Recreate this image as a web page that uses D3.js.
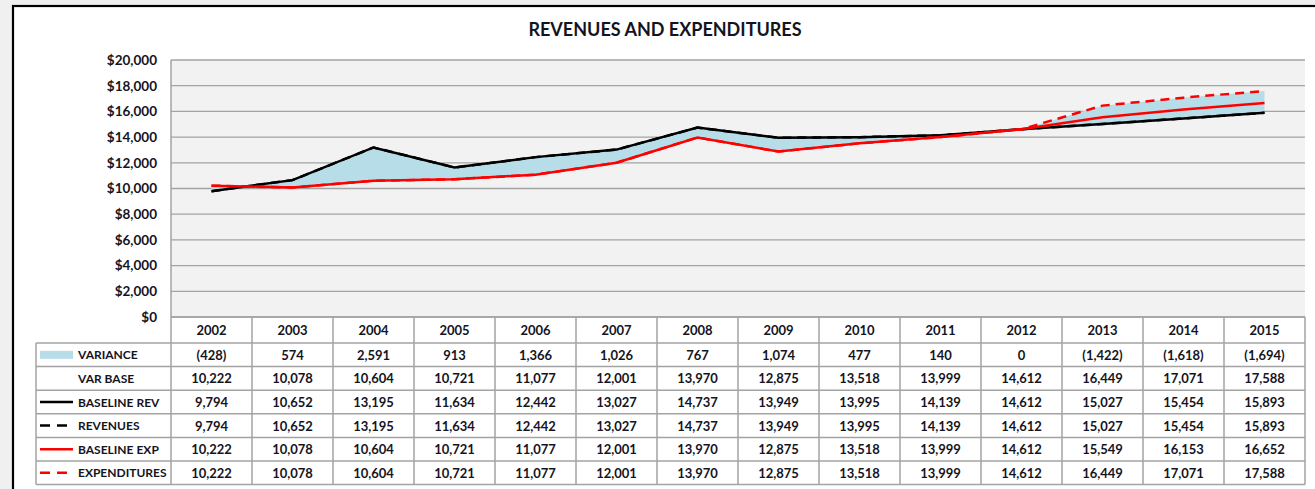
<!DOCTYPE html>
<head>
    <meta charset="utf-8">
    <script src="https://d3js.org/d3.v7.min.js"></script>
    <style>
        body { margin: 0; background: #f0f0f0; }
        svg { display: block; font-family: Lato, "Open Sans", sans-serif; font-weight: bold; }
        .axis text { font-family: Lato, "Open Sans", sans-serif; font-size: 13.5px; fill: #14141e; }
        .axis path, .axis line { display: none; }
        .grid line { stroke: #a3a3a3; stroke-width: 1.3; }
        .tbl line { stroke: #a3a3a3; stroke-width: 1.5; }
        .tbl text { font-size: 13px; fill: #14141e; }
    </style>
</head>
<body>
<div id="chart"></div>
<script>
    // dados ------------------------------------------------------------
    var years = [2002, 2003, 2004, 2005, 2006, 2007, 2008, 2009, 2010, 2011, 2012, 2013, 2014, 2015];
    var variance     = [-428, 574, 2591, 913, 1366, 1026, 767, 1074, 477, 140, 0, -1422, -1618, -1694];
    var varBase      = [10222, 10078, 10604, 10721, 11077, 12001, 13970, 12875, 13518, 13999, 14612, 16449, 17071, 17588];
    var baselineRev  = [9794, 10652, 13195, 11634, 12442, 13027, 14737, 13949, 13995, 14139, 14612, 15027, 15454, 15893];
    var revenues     = [9794, 10652, 13195, 11634, 12442, 13027, 14737, 13949, 13995, 14139, 14612, 15027, 15454, 15893];
    var baselineExp  = [10222, 10078, 10604, 10721, 11077, 12001, 13970, 12875, 13518, 13999, 14612, 15549, 16153, 16652];
    var expenditures = [10222, 10078, 10604, 10721, 11077, 12001, 13970, 12875, 13518, 13999, 14612, 16449, 17071, 17588];
    var yTicks = [0, 2000, 4000, 6000, 8000, 10000, 12000, 14000, 16000, 18000, 20000];

    var rows = [
        {name: "VARIANCE",      values: variance,     key: "area"},
        {name: "VAR BASE",      values: varBase,      key: "none"},
        {name: "BASELINE REV",  values: baselineRev,  key: "line", color: "#000", dash: null},
        {name: "REVENUES",      values: revenues,     key: "line", color: "#000", dash: "9,6"},
        {name: "BASELINE EXP",  values: baselineExp,  key: "line", color: "#ff0000", dash: null},
        {name: "EXPENDITURES",  values: expenditures, key: "line", color: "#ff0000", dash: "9,6"}
    ];

    var width = 1315, height = 489;
    var plot = {left: 171, right: 1305, top: 60, bottom: 317};
    var tableLeft = 36, headerH = 26, rowH = 23.6;
    var areaColor = "#b7dde8";

    var svg = d3.select("#chart").append("svg")
        .attr("width", width)
        .attr("height", height);

    // moldura externa
    svg.append("rect")
        .attr("x", 13).attr("y", 6)
        .attr("width", width).attr("height", height)
        .attr("fill", "#fff")
        .attr("stroke", "#000")
        .attr("stroke-width", 2.2);

    svg.append("text")
        .attr("x", 665).attr("y", 36)
        .attr("text-anchor", "middle")
        .attr("font-size", "18px")
        .attr("fill", "#14141e")
        .text("REVENUES AND EXPENDITURES");

    // escalas ----------------------------------------------------------
    var x = d3.scaleBand()
        .domain(years)
        .range([plot.left, plot.right]);

    var y = d3.scaleLinear()
        .domain([0, 20000])
        .range([plot.bottom, plot.top]);

    function cx(d) { return x(d) + x.bandwidth() / 2; }

    // area do grafico
    svg.append("rect")
        .attr("x", plot.left).attr("y", plot.top)
        .attr("width", plot.right - plot.left)
        .attr("height", plot.bottom - plot.top)
        .attr("fill", "#f2f2f2");

    svg.append("g")
        .attr("class", "grid")
        .selectAll("line")
        .data(yTicks)
        .enter()
        .append("line")
        .attr("x1", plot.left).attr("x2", plot.right)
        .attr("y1", function(d) { return y(d); })
        .attr("y2", function(d) { return y(d); });

    svg.append("line")
        .attr("x1", plot.left).attr("x2", plot.left)
        .attr("y1", plot.top).attr("y2", plot.bottom)
        .attr("stroke", "#a3a3a3").attr("stroke-width", 1.5);

    svg.append("g")
        .attr("class", "axis")
        .attr("transform", "translate(" + (plot.left - 8) + ",0)")
        .call(d3.axisLeft(y).tickValues(yTicks).tickSize(0).tickPadding(6)
            .tickFormat(function(d) { return "$" + d3.format(",")(d); }));

    // variancia (area empilhada sobre VAR BASE) -------------------------
    var area = d3.area()
        .x(function(d, i) { return cx(years[i]); })
        .y0(function(d, i) { return y(varBase[i]); })
        .y1(function(d, i) { return y(varBase[i] + variance[i]); });

    svg.append("path")
        .datum(variance)
        .attr("fill", areaColor)
        .attr("d", area);

    // linhas
    var line = d3.line()
        .x(function(d, i) { return cx(years[i]); })
        .y(function(d) { return y(d); });

    rows.filter(function(r) { return r.key == "line"; }).forEach(function(r) {
        svg.append("path")
            .datum(r.values)
            .attr("fill", "none")
            .attr("stroke", r.color)
            .attr("stroke-width", 2.5)
            .attr("stroke-dasharray", r.dash)
            .attr("d", line);
    });

    // tabela de dados ----------------------------------------------------
    var tbl = svg.append("g").attr("class", "tbl");
    var tableTop = plot.bottom;
    var tableBottom = tableTop + headerH + rows.length * rowH;

    function rowTop(i) { return tableTop + headerH + i * rowH; }

    // linhas horizontais
    tbl.append("line")
        .attr("x1", plot.left).attr("x2", plot.right)
        .attr("y1", tableTop).attr("y2", tableTop);
    d3.range(rows.length + 1).forEach(function(i) {
        tbl.append("line")
            .attr("x1", tableLeft).attr("x2", plot.right)
            .attr("y1", rowTop(i)).attr("y2", rowTop(i));
    });

    // linhas verticais
    tbl.append("line")
        .attr("x1", tableLeft).attr("x2", tableLeft)
        .attr("y1", rowTop(0)).attr("y2", tableBottom);
    years.concat(["end"]).forEach(function(d, i) {
        var xx = i < years.length ? x(d) : plot.right;
        tbl.append("line")
            .attr("x1", xx).attr("x2", xx)
            .attr("y1", tableTop).attr("y2", tableBottom);
    });

    // cabecalho
    tbl.selectAll("text.year")
        .data(years)
        .enter()
        .append("text")
        .attr("class", "year")
        .attr("x", cx)
        .attr("y", tableTop + headerH / 2 + 5)
        .attr("text-anchor", "middle")
        .text(function(d) { return d; });

    function fmt(v) {
        var s = d3.format(",")(Math.abs(v));
        return v < 0 ? "(" + s + ")" : s;
    }

    rows.forEach(function(r, i) {
        var mid = rowTop(i) + rowH / 2;

        // legenda
        if (r.key == "area") {
            tbl.append("rect")
                .attr("x", 40).attr("y", mid - 4)
                .attr("width", 33).attr("height", 8)
                .attr("fill", areaColor);
        } else if (r.key == "line") {
            tbl.append("line")
                .attr("x1", 40).attr("x2", 73)
                .attr("y1", mid).attr("y2", mid)
                .style("stroke", r.color)
                .style("stroke-width", 2.5)
                .style("stroke-dasharray", r.dash ? "10,7" : null);
        }
        tbl.append("text")
            .attr("x", 78)
            .attr("y", mid + 4.5)
            .style("font-size", "12px")
            .text(r.name);

        tbl.selectAll(null)
            .data(r.values)
            .enter()
            .append("text")
            .attr("x", function(d, j) { return cx(years[j]); })
            .attr("y", mid + 5)
            .attr("text-anchor", "middle")
            .text(fmt);
    });
</script>
</body>
